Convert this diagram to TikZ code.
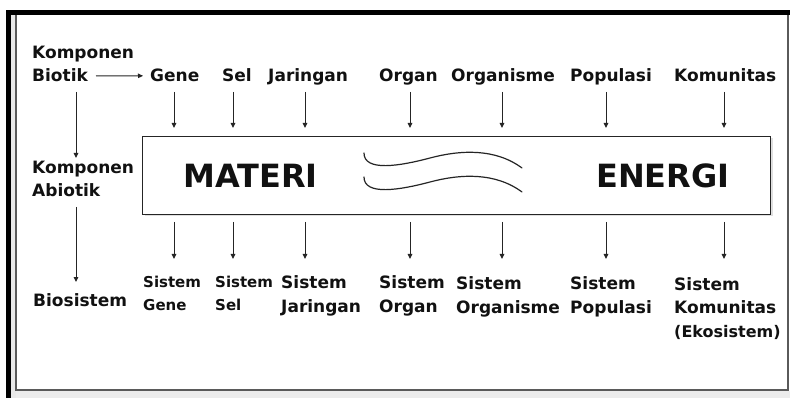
\documentclass[tikz,border=0pt]{standalone}
\usepackage{fontspec}
\setmainfont{DejaVu Sans}
\usetikzlibrary{arrows.meta,shadows}
\definecolor{txt}{HTML}{111111}
\definecolor{ln}{HTML}{252525}
\definecolor{frm}{HTML}{5A5A5A}
\begin{document}
\begin{tikzpicture}[x=1pt,y=-1pt,
  lbl/.style={anchor=base west, inner sep=0pt, font=\fontsize{17}{23.5}\selectfont\bfseries, align=left, text=txt},
  lbls/.style={lbl, font=\fontsize{15}{23}\selectfont\bfseries},
  big/.style={anchor=base west, inner sep=0pt, font=\fontsize{32}{36}\selectfont\bfseries, text=txt},
  arr/.style={draw=ln, line width=1pt, -{Triangle[length=5pt,width=4.5pt]}},
  wave/.style={draw=ln, line width=1.2pt, line cap=round},
]
\useasboundingbox (0,0) rectangle (790,398);
\fill[white] (0,0) rectangle (790,398);
% frame
\fill[gray!18] (11,15) rectangle (16,398);
\fill[gray!15] (16,391) rectangle (790,398);
\draw[line width=1.5pt, frm] (16,15) -- (16,390) -- (788,390) -- (788,15);
\draw[line width=5pt, black] (8.5,398) -- (8.5,12.5) -- (790,12.5);

% central box
\node[draw=ln, fill=white, line width=1pt, inner sep=0pt, minimum width=628pt, minimum height=78pt, anchor=north west,
      drop shadow={opacity=0.25, shadow xshift=2pt, shadow yshift=-2pt}] (box) at (142,136) {};
\node[big] (materi) at (183,188) {MATERI};
\node[big] (energi) at (596,188) {ENERGI};
\draw[wave] (364,153) .. controls (364,172) and (400,166) .. (430,158) .. controls (460,150) and (495,148) .. (522,168);
\draw[wave] (364,177) .. controls (364,196) and (400,190) .. (430,182) .. controls (460,174) and (495,172) .. (522,192);

% top row
\node[lbl] (kb) at (32,82) {Komponen\\Biotik};
\node[lbl] (gene) at (150,82) {Gene};
\node[lbl] (sel) at (222,82) {Sel};
\node[lbl] (jar) at (268,82) {Jaringan};
\node[lbl] (org) at (379,82) {Organ};
\node[lbl] (orgs) at (451,82) {Organisme};
\node[lbl] (pop) at (570,82) {Populasi};
\node[lbl] (kom) at (674,82) {Komunitas};

% left column
\node[lbl] (ka) at (32,197) {Komponen\\Abiotik};
\node[lbl] (bio) at (33,306) {Biosistem};

% bottom row
\node[lbls] (sg) at (143,310) {Sistem\\Gene};
\node[lbls] (ss) at (215,310) {Sistem\\Sel};
\node[lbl] (sj) at (281,312) {Sistem\\Jaringan};
\node[lbl] (so) at (379,312) {Sistem\\Organ};
\node[lbl] (sor) at (456,313) {Sistem\\Organisme};
\node[lbl] (sp) at (570,313) {Sistem\\Populasi};
\node[lbl] (sk) at (674,337) {Sistem\\Komunitas\\{\fontsize{16}{18}\selectfont(Ekosistem)}};

% helper coordinates
\coordinate (bt) at (96,76);
\coordinate (lA) at (76,92);
\coordinate (lB) at (76,158);
\coordinate (lC) at (76,207);
\coordinate (lD) at (76,282);

% arrows
\draw[arr] (bt) -- ([xshift=-7pt]gene.west);
\draw[arr] (lA) -- (lB);
\draw[arr] (lC) -- (lD);
\foreach \n/\xx in {gene/174,sel/233,jar/305,org/410,orgs/502,pop/606,kom/724}{
  \draw[arr] (\xx,92) -- (\xx,128);
  \draw[arr] (\xx,222) -- (\xx,259);
}
\end{tikzpicture}
\end{document}
